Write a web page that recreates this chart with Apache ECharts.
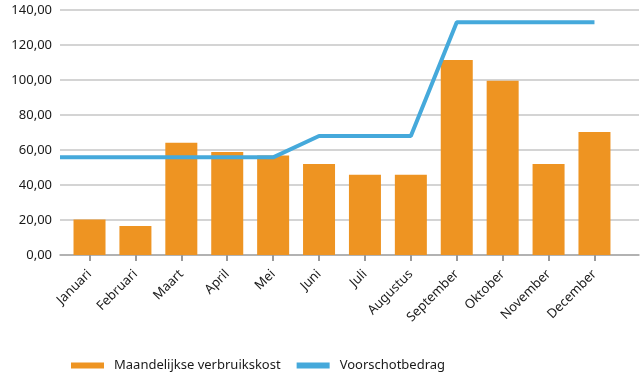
<!DOCTYPE html>
<html>
<head>
<meta charset="utf-8">
<title>Verbruik</title>
<script src="https://cdn.jsdelivr.net/npm/echarts@6/dist/echarts.min.js"></script>
<style>
	html, body { margin: 0; padding: 0; background: #fff; }
	#chart { width: 641px; height: 376px; }
</style>
</head>
<body>
<div id="chart"></div>
<script type="text/javascript">
	// maanden en waarden
	var maanden = ['Januari', 'Februari', 'Maart', 'April', 'Mei', 'Juni', 'Juli', 'Augustus', 'September', 'Oktober', 'November', 'December'];
	var verbruikskost = [20.3, 16.6, 64.2, 58.9, 56.8, 52.0, 45.9, 45.9, 111.4, 99.6, 52.0, 70.3];
	var voorschot = [55.8, 55.8, 55.8, 55.8, 55.8, 68.0, 68.0, 68.0, 133.0, 133.0, 133.0, 133.0];
	var yTicks = [0, 20, 40, 60, 80, 100, 120, 140];

	// x-as loopt iets voorbij de eerste en laatste maand
	var xMin = -0.643, xMax = 11.97;
	var idx = maanden.map(function(m, i){ return i; });

	var barData = verbruikskost.map(function(v, i){ return [i, v]; });
	var lineData = [[xMin, voorschot[0]]].concat(voorschot.map(function(v, i){ return [i, v]; }));

	var fmt = function(v){ return v.toFixed(2).replace('.', ','); };

	var chart = echarts.init(document.getElementById('chart'));
	chart.setOption({
		animation: false,
		textStyle: { fontFamily: 'Noto Sans' },
		grid: { left: 60, right: 2, top: 10, bottom: 121 },
		legend: {
			left: 71,
			top: 359,
			padding: 0,
			itemWidth: 33,
			itemHeight: 6,
			itemGap: 16,
			icon: 'rect',
			textStyle: { fontSize: 13, color: '#1a1a1a', padding: [0, 0, 0, 5] },
			data: ['Maandelijkse verbruikskost', 'Voorschotbedrag']
		},
		xAxis: {
			type: 'value',
			min: xMin,
			max: xMax,
			splitLine: { show: false },
			axisLine: { show: true, onZero: false, lineStyle: { color: '#a6a6a6', width: 1.5 } },
			axisTick: { show: true, customValues: idx, length: 6, lineStyle: { color: '#9a9a9a', width: 2 } },
			axisLabel: {
				customValues: idx,
				rotate: 45,
				margin: 17,
				fontSize: 13,
				color: '#1a1a1a',
				formatter: function(v){ return maanden[Math.round(v)]; }
			}
		},
		yAxis: {
			type: 'value',
			min: yTicks[0],
			max: yTicks[yTicks.length - 1],
			interval: 20,
			axisLine: { show: false },
			axisTick: { show: false },
			axisLabel: { fontSize: 13, color: '#1a1a1a', margin: 8, formatter: fmt },
			splitLine: { lineStyle: { color: '#c6c6c6', width: 1.5 } }
		},
		series: [
			{
				name: 'Maandelijkse verbruikskost',
				type: 'bar',
				barWidth: 32,
				itemStyle: { color: '#EE9422' },
				data: barData
			},
			{
				name: 'Voorschotbedrag',
				type: 'line',
				showSymbol: false,
				symbol: 'none',
				lineStyle: { color: '#45A9DB', width: 4 },
				itemStyle: { color: '#45A9DB' },
				data: lineData
			}
		]
	});
</script>
</body>
</html>
